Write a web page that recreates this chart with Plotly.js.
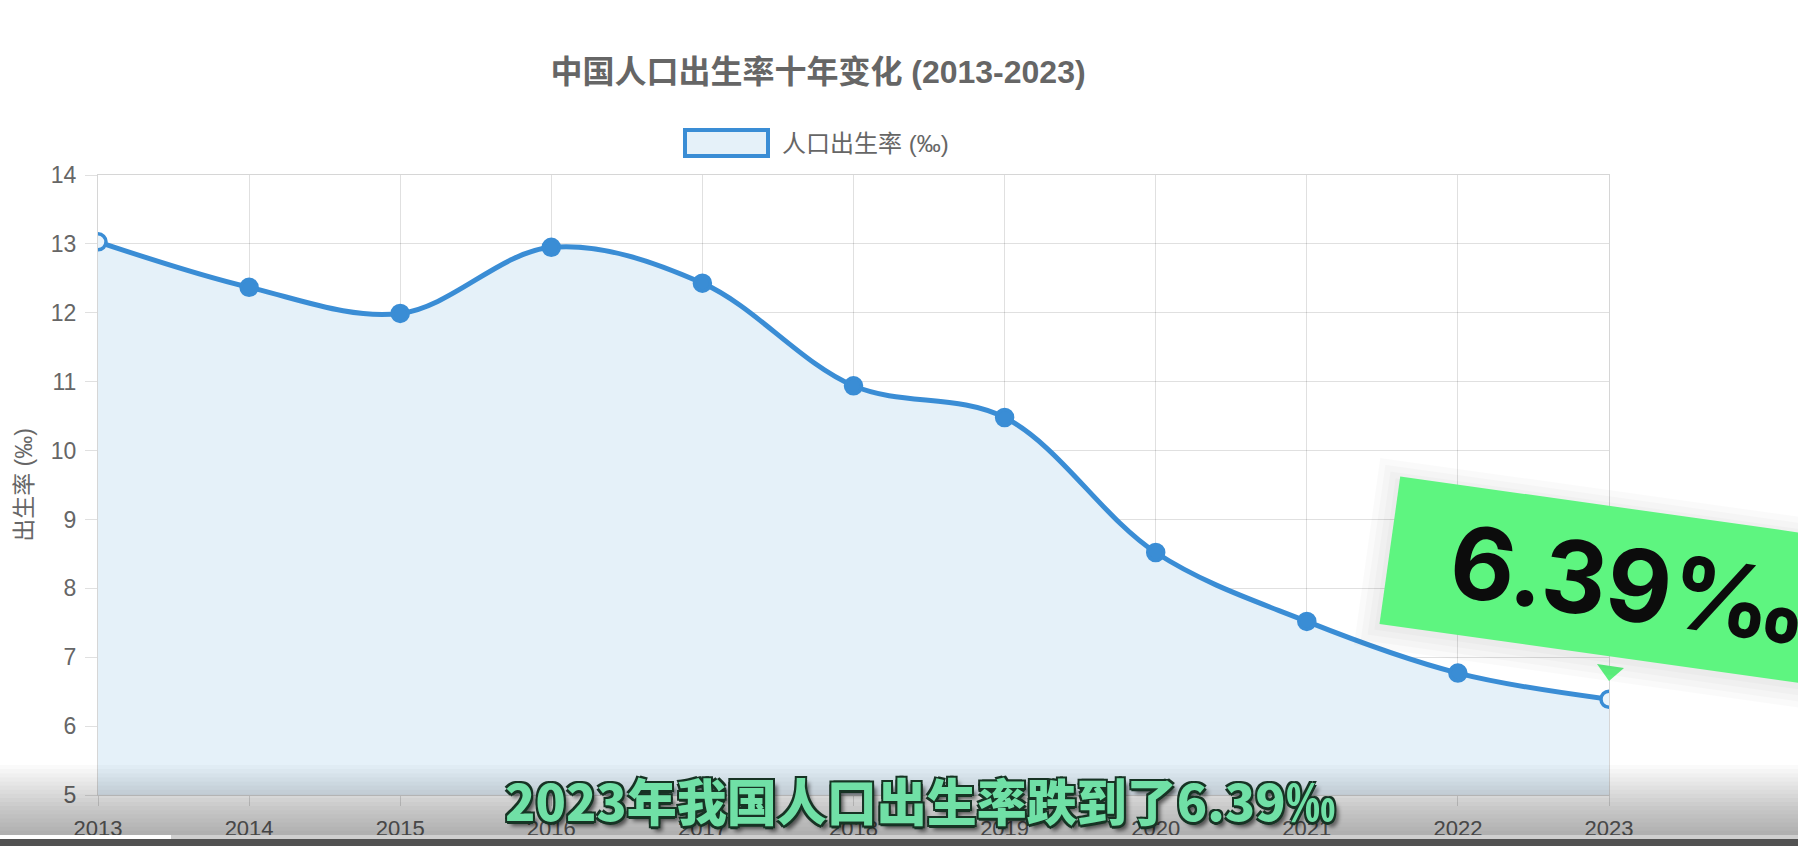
<!DOCTYPE html>
<html>
<head>
<meta charset="utf-8">
<script src="https://cdn.plot.ly/plotly-3.0.1.min.js"></script>
<style>
  html, body { margin: 0; padding: 0; background: #ffffff; }
  #chart { width: 1798px; height: 846px; }
</style>
</head>
<body>
<div id="chart"></div>
<script>
// ---- data ----
const years = [2013, 2014, 2015, 2016, 2017, 2018, 2019, 2020, 2021, 2022, 2023];
const birthRate = [13.03, 12.37, 11.99, 12.95, 12.43, 10.94, 10.48, 8.52, 7.52, 6.77, 6.39];
const yTickValues = [5, 6, 7, 8, 9, 10, 11, 12, 13, 14];
const chartTitle = '中国人口出生率十年变化 (2013-2023)';
const seriesName = '人口出生率 (‰)';
const yAxisTitle = '出生率 (‰)';
const calloutText = '6.39‰';
const subtitleText = '2023年我国人口出生率跌到了6.39‰';

// ---- layout geometry (pixels) ----
const W = 1798, H = 846;
const L = 98, R = 1609, T = 175, B = 795;
const px = x => (x - L) / (R - L);
const py = y => (B - y) / (B - T);

const BLUE = '#3a8dd5';
const FILL = '#e5f1f9';
const GREY = '#666666';
const FONT = '"Liberation Sans", "Noto Sans CJK SC", Arial, sans-serif';
const CJK = '"Noto Sans CJK SC", "Liberation Sans", sans-serif';

const markerFill = years.map((_, i) => (i === 0 || i === years.length - 1) ? '#eaf4fb' : BLUE);

const trace = {
  x: years,
  y: birthRate,
  type: 'scatter',
  mode: 'lines+markers',
  name: seriesName,
  fill: 'tozeroy',
  fillcolor: FILL,
  line: { color: BLUE, width: 5, shape: 'spline', smoothing: 1.0 },
  marker: { size: 16, color: markerFill, line: { color: BLUE, width: 3.5 } },
  showlegend: false,
  hoverinfo: 'x+y'
};

const shapes = [];
// legend box
shapes.push({
  type: 'rect', xref: 'paper', yref: 'paper',
  x0: px(685), x1: px(768), y0: py(130), y1: py(156),
  fillcolor: FILL, line: { color: BLUE, width: 4 }, layer: 'above'
});
// bottom video gradient band
const bandTop = 765, bandBottom = 839, steps = 18;
for (let i = 0; i < steps; i++) {
  const y0 = bandTop + (bandBottom - bandTop) * i / steps;
  shapes.push({
    type: 'rect', xref: 'paper', yref: 'paper',
    x0: px(0), x1: px(W), y0: py(y0), y1: py(bandBottom),
    fillcolor: 'rgba(0,0,0,0.019)', line: { width: 0 }, layer: 'above'
  });
}
// progress bar line
shapes.push({
  type: 'rect', xref: 'paper', yref: 'paper',
  x0: px(0), x1: px(W), y0: py(835), y1: py(839),
  fillcolor: '#cfcfcf', line: { width: 0 }, layer: 'above'
});
shapes.push({
  type: 'rect', xref: 'paper', yref: 'paper',
  x0: px(0), x1: px(171), y0: py(835), y1: py(839),
  fillcolor: '#ffffff', line: { width: 0 }, layer: 'above'
});
shapes.push({
  type: 'rect', xref: 'paper', yref: 'paper',
  x0: px(0), x1: px(W), y0: py(839), y1: py(H),
  fillcolor: '#525252', line: { width: 0 }, layer: 'above'
});

const annotations = [];
// legend text
annotations.push({
  xref: 'paper', yref: 'paper', x: px(780), y: py(143),
  xanchor: 'left', yanchor: 'middle', showarrow: false,
  text: seriesName, font: { family: FONT, size: 24, color: GREY }
});
// callout soft shadow
const cx = px(1630), cy = py(584);
for (let k = 0; k < 4; k++) {
  annotations.push({
    xref: 'paper', yref: 'paper', x: cx - 0.002, y: py(588),
    xanchor: 'center', yanchor: 'middle', showarrow: false,
    text: calloutText, textangle: 8,
    width: 464 + k * 12, height: 128 + k * 12, borderpad: 12,
    bgcolor: 'rgba(0,0,0,0.018)',
    font: { family: 'Inter, sans-serif', size: 100, weight: 700, color: 'rgba(0,0,0,0)' }
  });
}
// callout
annotations.push({
  xref: 'paper', yref: 'paper', x: cx, y: cy,
  xanchor: 'center', yanchor: 'middle', showarrow: false,
  text: calloutText, textangle: 8,
  width: 460, height: 124, borderpad: 12,
  bgcolor: '#5ef580',
  font: { family: 'Inter, sans-serif', size: 100, weight: 700, color: '#0c0c0c' }
});
// callout tail as a small triangle
shapes.push({
  type: 'path', xref: 'paper', yref: 'paper', layer: 'above',
  path: 'M ' + px(1597) + ' ' + py(664) + ' L ' + px(1624) + ' ' + py(668) + ' L ' + px(1609) + ' ' + py(681) + ' Z',
  fillcolor: '#5ef580', line: { width: 0 }
});
// subtitle
const outline = '#173324';
annotations.push({
  xref: 'paper', yref: 'paper', x: px(920), y: py(799),
  xanchor: 'center', yanchor: 'middle', showarrow: false,
  text: subtitleText,
  font: {
    family: CJK, size: 50, weight: 900, color: '#70e0a6',
    shadow: '2px 2px 0 ' + outline + ', -2px -2px 0 ' + outline + ', 2px -2px 0 ' + outline + ', -2px 2px 0 ' + outline + ', 0 3px 0 ' + outline + ', 4px 5px 4px rgba(0,0,0,0.6)'
  }
});

const layout = {
  width: W, height: H,
  paper_bgcolor: '#ffffff', plot_bgcolor: '#ffffff',
  margin: { l: L, r: W - R, t: T, b: H - B, pad: 0 },
  title: {
    text: chartTitle,
    x: 818 / W, xanchor: 'center',
    y: 1 - 72 / H, yanchor: 'middle',
    font: { family: FONT, size: 32, weight: 700, color: GREY }
  },
  showlegend: false,
  xaxis: {
    range: [years[0], years[years.length - 1]],
    tickmode: 'array', tickvals: years, ticktext: years.map(String),
    showgrid: true, gridcolor: 'rgba(0,0,0,0.12)', gridwidth: 1,
    showline: true, linecolor: 'rgba(0,0,0,0.16)', linewidth: 1, mirror: true,
    ticks: 'outside', ticklen: 10, tickcolor: 'rgba(0,0,0,0.14)',
    ticklabelstandoff: 4,
    zeroline: false, fixedrange: true,
    tickfont: { family: FONT, size: 22, color: GREY }
  },
  yaxis: {
    range: [5, 14],
    tickmode: 'array', tickvals: yTickValues, ticktext: yTickValues.map(String),
    showgrid: true, gridcolor: 'rgba(0,0,0,0.12)', gridwidth: 1,
    showline: true, linecolor: 'rgba(0,0,0,0.16)', linewidth: 1, mirror: true,
    ticks: 'outside', ticklen: 12, tickcolor: 'rgba(0,0,0,0.12)',
    ticklabelstandoff: 4,
    zeroline: false, fixedrange: true,
    tickfont: { family: FONT, size: 23, color: GREY },
    title: { text: yAxisTitle, standoff: 11, font: { family: FONT, size: 23, color: GREY } }
  },
  shapes: shapes,
  annotations: annotations
};

Plotly.newPlot('chart', [trace], layout, { displayModeBar: false, staticPlot: true });
</script>
</body>
</html>
